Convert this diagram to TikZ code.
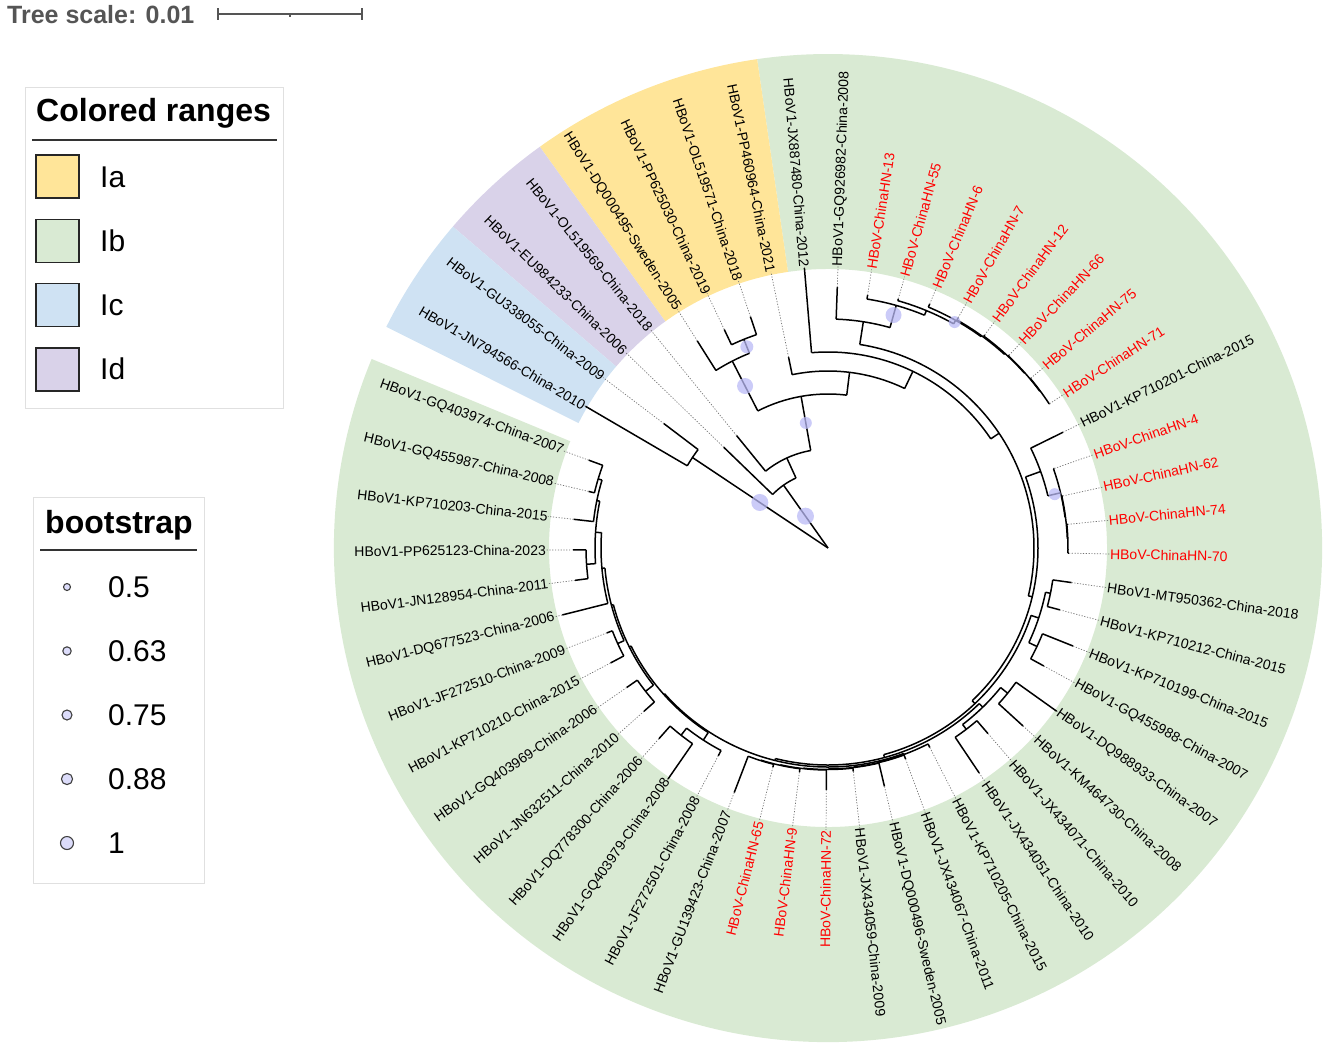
\documentclass[tikz,border=0pt]{standalone}
\usepackage{fontspec}
\setmainfont{Liberation Sans}
\definecolor{rangeIa}{RGB}{255,229,153}
\definecolor{rangeIb}{RGB}{217,234,211}
\definecolor{rangeIc}{RGB}{207,226,243}
\definecolor{rangeId}{RGB}{217,210,233}
\definecolor{bootfill}{RGB}{185,185,245}
\definecolor{bootlegend}{RGB}{220,220,250}
\definecolor{scalegray}{RGB}{85,85,85}

\newcommand\leafang[1]{(149.7-6.86*(#1-1))}
\newcommand\cladebr[5]{%
  \pgfmathsetmacro\cmid{(#2+#3)/2}%
  \coordinate (#1) at (\cmid:#5pt);%
  \draw[branch] (\cmid:#4pt) -- (#1);%
  \draw[branch] ({#2}:#5pt) arc[start angle={#2}, end angle={#3}, radius=#5pt];%
}
\newcommand\leafbr[3]{%
  \coordinate (t#1) at ({\leafang{#1}}:#3pt);%
  \draw[branch] ({\leafang{#1}}:#2pt) -- (t#1);%
  \draw[dotline] (t#1) -- (l#1);%
}
\newcommand\rangesec[3]{%
  \fill[#1] (#2:279pt) arc[start angle=#2, end angle=#3, radius=279pt]
    -- (#3:494pt) arc[start angle=#3, end angle=#2, radius=494pt] -- cycle;%
}

\begin{document}
\begin{tikzpicture}
[x=1pt, y=1pt,
 branch/.style={line width=1.5pt, black, line join=round},
 dotline/.style={black!55, line width=0.7pt, dash pattern=on 1.2pt off 1.6pt},
 leaflbl/.style={inner sep=0pt, font=\fontsize{14}{16}\selectfont},
 boot/.style={fill=bootfill, fill opacity=0.75},
 legtitle/.style={anchor=base west, inner sep=0pt, font=\fontsize{32}{36}\selectfont\bfseries},
 legitem/.style={anchor=base west, inner sep=0pt, font=\fontsize{30}{34}\selectfont},
 legbox/.style={draw=black!12, line width=1pt},
 swatch/.style={draw=black!85, line width=1.5pt}]
\useasboundingbox (0,0) rectangle (1325,-1047);

% scale and legends
\node (scaletxt) at (7,-23) [anchor=base west, inner sep=0pt, text=scalegray, font=\fontsize{25}{30}\selectfont\bfseries] {Tree scale: 0.01};
\draw[scalegray, line width=1.4pt] (218,-14) -- (362,-14);
\draw[scalegray, line width=1.4pt] (218,-8) -- (218,-20) (362,-8) -- (362,-20) (290,-14) -- (290,-17);

\draw[legbox] (25,-87) rectangle (283,-408);
\node (crtitle) at (36,-121) [legtitle] {Colored ranges};
\draw[line width=1.5pt, black!80] (32,-140) -- (277,-140);
\foreach \k/\nm in {0/Ia,1/Ib,2/Ic,3/Id}{
  \draw[swatch, fill=range\nm] (36,{-155-64.3*\k}) rectangle (79,{-198-64.3*\k});
  \node (sw\nm) at (100,{-187-64.2*\k}) [legitem] {\nm};
}

\draw[legbox] (33,-497) rectangle (204,-883);
\node (bstitle) at (45,-533) [legtitle] {bootstrap};
\draw[line width=1.5pt, black!80] (40,-550) -- (197,-550);
\foreach \k/\bval/\brad in {0/0.5/3.5, 1/0.63/4.2, 2/0.75/5, 3/0.88/5.6, 4/1/6.5}{
  \draw[fill=bootlegend, draw=black!75, line width=1.1pt] (67,{-587-64*\k}) circle (\brad pt);
  \node (bs\k) at (108,{-597-64*\k}) [legitem] {\bval};
}

\begin{scope}[shift={(828,-548)}]
% colored ranges
\rangesec{rangeIb}{98.25}{-202.5}
\rangesec{rangeIa}{125.69}{98.25}
\rangesec{rangeId}{139.41}{125.69}
\rangesec{rangeIc}{153.4}{139.41}

% leaf labels
\foreach \i/\lbl/\col in {
 1/HBoV1-JN794566-China-2010/black, 2/HBoV1-GU338055-China-2009/black,
 3/HBoV1-EU984233-China-2006/black, 4/HBoV1-OL519569-China-2018/black,
 5/HBoV1-DQ000495-Sweden-2005/black, 6/HBoV1-PP625030-China-2019/black,
 7/HBoV1-OL519571-China-2018/black, 8/HBoV1-PP460964-China-2021/black,
 9/HBoV1-JX887480-China-2012/black, 10/HBoV1-GQ926982-China-2008/black,
 11/HBoV-ChinaHN-13/red, 12/HBoV-ChinaHN-55/red, 13/HBoV-ChinaHN-6/red,
 14/HBoV-ChinaHN-7/red, 15/HBoV-ChinaHN-12/red, 16/HBoV-ChinaHN-66/red,
 17/HBoV-ChinaHN-75/red, 18/HBoV-ChinaHN-71/red,
 19/HBoV1-KP710201-China-2015/black,
 20/HBoV-ChinaHN-4/red, 21/HBoV-ChinaHN-62/red, 22/HBoV-ChinaHN-74/red,
 23/HBoV-ChinaHN-70/red,
 24/HBoV1-MT950362-China-2018/black, 25/HBoV1-KP710212-China-2015/black,
 26/HBoV1-KP710199-China-2015/black, 27/HBoV1-GQ455988-China-2007/black,
 28/HBoV1-DQ988933-China-2007/black, 29/HBoV1-KM464730-China-2008/black,
 30/HBoV1-JX434071-China-2010/black, 31/HBoV1-JX434051-China-2010/black,
 32/HBoV1-KP710205-China-2015/black, 33/HBoV1-JX434067-China-2011/black,
 34/HBoV1-DQ000496-Sweden-2005/black, 35/HBoV1-JX434059-China-2009/black,
 36/HBoV-ChinaHN-72/red, 37/HBoV-ChinaHN-9/red, 38/HBoV-ChinaHN-65/red,
 39/HBoV1-GU139423-China-2007/black, 40/HBoV1-JF272501-China-2008/black,
 41/HBoV1-GQ403979-China-2008/black, 42/HBoV1-DQ778300-China-2006/black,
 43/HBoV1-JN632511-China-2010/black, 44/HBoV1-GQ403969-China-2006/black,
 45/HBoV1-KP710210-China-2015/black, 46/HBoV1-JF272510-China-2009/black,
 47/HBoV1-DQ677523-China-2006/black, 48/HBoV1-JN128954-China-2011/black,
 49/HBoV1-PP625123-China-2023/black, 50/HBoV1-KP710203-China-2015/black,
 51/HBoV1-GQ455987-China-2008/black, 52/HBoV1-GQ403974-China-2007/black}{
  \pgfmathsetmacro\a{\leafang{\i}}
  \pgfmathsetmacro\co{cos(\a)}
  \pgfmathsetmacro\rt{\a+180}
  \ifdim\co pt<0pt
    \node (l\i) at (\a:282pt) [leaflbl, text=\col, anchor=east, rotate=\rt] {\lbl};
  \else
    \node (l\i) at (\a:282pt) [leaflbl, text=\col, anchor=west, rotate=\a] {\lbl};
  \fi
}

% node angles
\pgfmathsetmacro\aIc{(\leafang{1}+\leafang{2})/2}
\pgfmathsetmacro\aIaB{(\leafang{6}+\leafang{7})/2}
\pgfmathsetmacro\aIa{(\leafang{5}+\aIaB)/2}
\pgfmathsetmacro\aKa{(\leafang{17}+\leafang{18})/2}
\pgfmathsetmacro\aKb{(\leafang{16}+\aKa)/2}
\pgfmathsetmacro\aKc{(\leafang{15}+\aKb)/2}
\pgfmathsetmacro\aKd{(\leafang{14}+\aKc)/2}
\pgfmathsetmacro\aKe{(\leafang{13}+\aKd)/2}
\pgfmathsetmacro\aHy{(\leafang{12}+\aKe)/2}
\pgfmathsetmacro\aH{(\leafang{11}+\aHy)/2}
\pgfmathsetmacro\aG{(\leafang{10}+\aH)/2}
\pgfmathsetmacro\aQa{(\leafang{22}+\leafang{23})/2}
\pgfmathsetmacro\aQb{(\leafang{21}+\aQa)/2}
\pgfmathsetmacro\aQc{(\leafang{20}+\aQb)/2}
\pgfmathsetmacro\aRa{(\leafang{19}+\aQc)/2}
\pgfmathsetmacro\aSa{(\leafang{24}+\leafang{25})/2}
\pgfmathsetmacro\aSb{(\leafang{26}+\leafang{27})/2}
\pgfmathsetmacro\aRb{(\aSa+\aSb)/2}
\pgfmathsetmacro\aBa{(\leafang{28}+\leafang{29})/2}
\pgfmathsetmacro\aBb{(\leafang{30}+\leafang{31})/2}
\pgfmathsetmacro\aBc{(\aBa+\aBb)/2}
\pgfmathsetmacro\aCg{(\leafang{38}+\leafang{39})/2}
\pgfmathsetmacro\aCf{(\leafang{37}+\aCg)/2}
\pgfmathsetmacro\aCe{(\leafang{36}+\aCf)/2}
\pgfmathsetmacro\aCd{(\leafang{35}+\aCe)/2}
\pgfmathsetmacro\aCc{(\leafang{34}+\aCd)/2}
\pgfmathsetmacro\aCb{(\leafang{33}+\aCc)/2}
\pgfmathsetmacro\aCa{(\leafang{32}+\aCb)/2}
\pgfmathsetmacro\aMa{(\leafang{41}+\leafang{42})/2}
\pgfmathsetmacro\aMb{(\leafang{40}+\aMa)/2}
\pgfmathsetmacro\aMc{(\leafang{43}+\leafang{44})/2}
\pgfmathsetmacro\aMd{(\leafang{45}+\leafang{46})/2}
\pgfmathsetmacro\aMe{(\leafang{48}+\leafang{49})/2}
\pgfmathsetmacro\aMf{(\leafang{51}+\leafang{52})/2}
\pgfmathsetmacro\aMg{(\leafang{50}+\aMf)/2}
\pgfmathsetmacro\aMh{(\aMe+\aMg)/2}
\pgfmathsetmacro\aLa{(\leafang{47}+\aMh)/2}
\pgfmathsetmacro\aLb{(\aMd+\aLa)/2}
\pgfmathsetmacro\aLc{(\aMc+\aLb)/2}
\pgfmathsetmacro\aLd{(\aMb+\aLc)/2}
\pgfmathsetmacro\aW{(\aCa+\aLd)/2}
\pgfmathsetmacro\aZ{(\aBc+\aW)/2}
\pgfmathsetmacro\aY{(\aRb+\aZ)/2}
\pgfmathsetmacro\aX{(\aRa+\aY)/2}
\pgfmathsetmacro\aF{(\aG+\aX)/2}
\pgfmathsetmacro\aD{(\leafang{9}+\aF)/2}
\pgfmathsetmacro\aC{(\leafang{8}+\aD)/2}
\pgfmathsetmacro\aN{(\aIa+\aC)/2}
\pgfmathsetmacro\aNc{(\leafang{4}+\aN)/2}
\pgfmathsetmacro\aNb{(\leafang{3}+\aNc)/2}

% clades: name, first, last, parent radius, radius
\cladebr{Ic}{\leafang{1}}{\leafang{2}}{0}{163}
\cladebr{Nb}{\leafang{3}}{\aNc}{0}{77}
\cladebr{Nc}{\leafang{4}}{\aN}{77}{99}
\cladebr{N}{\aIa}{\aC}{99}{154}
\cladebr{Ia}{\leafang{5}}{\aIaB}{154}{210}
\cladebr{IaB}{\leafang{6}}{\leafang{7}}{210}{225}
\cladebr{C}{\leafang{8}}{\aD}{154}{177}
\cladebr{D}{\leafang{9}}{\aF}{177}{196}
\cladebr{F}{\aG}{\aX}{196}{206}
\cladebr{G}{\leafang{10}}{\aH}{206}{229}
\cladebr{H}{\leafang{11}}{\aHy}{229}{252}
\cladebr{Hy}{\leafang{12}}{\aKe}{252}{257}
\cladebr{Ke}{\leafang{13}}{\aKd}{257}{261}
\cladebr{Kd}{\leafang{14}}{\aKc}{261}{262}
\cladebr{Kc}{\leafang{15}}{\aKb}{262}{263}
\cladebr{Kb}{\leafang{16}}{\aKa}{263}{263.5}
\cladebr{Ka}{\leafang{17}}{\leafang{18}}{263.5}{264}
\cladebr{X}{\aRa}{\aY}{206}{210}
\cladebr{Ra}{\leafang{19}}{\aQc}{210}{226}
\cladebr{Qc}{\leafang{20}}{\aQb}{226}{239}
\cladebr{Qb}{\leafang{21}}{\aQa}{239}{239.5}
\cladebr{Qa}{\leafang{22}}{\leafang{23}}{239.5}{240}
\cladebr{Y}{\aRb}{\aZ}{210}{214}
\cladebr{Rb}{\aSa}{\aSb}{214}{222}
\cladebr{Sa}{\leafang{24}}{\leafang{25}}{222}{227}
\cladebr{Sb}{\leafang{26}}{\leafang{27}}{222}{231}
\cladebr{Z}{\aBc}{\aW}{214}{217}
\cladebr{Bc}{\aBa}{\aBb}{217}{222}
\cladebr{Ba}{\leafang{28}}{\leafang{29}}{222}{231}
\cladebr{Bb}{\leafang{30}}{\leafang{31}}{222}{228}
\cladebr{W}{\aCa}{\aLd}{217}{219}
\cladebr{Ca}{\leafang{32}}{\aCb}{219}{220}
\cladebr{Cb}{\leafang{33}}{\aCc}{220}{220.5}
\cladebr{Cc}{\leafang{34}}{\aCd}{220.5}{221}
\cladebr{Cd}{\leafang{35}}{\aCe}{221}{221.5}
\cladebr{Ce}{\leafang{36}}{\aCf}{221.5}{222}
\cladebr{Cf}{\leafang{37}}{\aCg}{222}{222.5}
\cladebr{Cg}{\leafang{38}}{\leafang{39}}{222.5}{223}
\cladebr{Ld}{\aMb}{\aLc}{219}{220}
\cladebr{Mb}{\leafang{40}}{\aMa}{220}{229}
\cladebr{Ma}{\leafang{41}}{\leafang{42}}{229}{238}
\cladebr{Lc}{\aMc}{\aLb}{220}{222}
\cladebr{Mc}{\leafang{43}}{\leafang{44}}{222}{232}
\cladebr{Lb}{\aMd}{\aLa}{222}{224}
\cladebr{Md}{\leafang{45}}{\leafang{46}}{224}{231}
\cladebr{La}{\leafang{47}}{\aMh}{224}{227}
\cladebr{Mh}{\aMe}{\aMg}{227}{233}
\cladebr{Me}{\leafang{48}}{\leafang{49}}{233}{242}
\cladebr{Mg}{\leafang{50}}{\aMf}{233}{236}
\cladebr{Mf}{\leafang{51}}{\leafang{52}}{236}{240}

% leaves: index, parent radius, tip radius
\foreach \i/\pr/\tr in {1/163/281, 2/163/206, 3/77/145, 4/99/145, 5/210/245,
 6/225/242, 7/225/244, 8/177/195, 9/196/281, 10/229/261, 11/252/256,
 12/257/259, 13/261/264.5, 14/262/264.5, 15/263/264.5, 16/263.5/264.5,
 17/264/264.5, 18/264/264.5, 19/226/262, 20/239/240, 21/239.5/240.5,
 22/240/241, 23/240/241, 24/227/246, 25/227/240, 26/231/264, 27/231/246,
 28/231/281, 29/231/264, 30/228/245, 31/228/271, 32/220/224, 33/220.5/225,
 34/221/245, 35/221.5/225, 36/222/242, 37/222.5/226, 38/223/226, 39/223/262,
 40/229/235, 41/238/281, 42/238/255, 43/232/246, 44/232/245, 45/231/246,
 46/231/237, 47/227/274, 48/242/255, 49/242/255, 50/236/256, 51/240/246,
 52/240/255}{
  \leafbr{\i}{\pr}{\tr}
}

% bootstrap
\fill[boot] (\aIc:82pt) circle (8.5pt);
\fill[boot] (\aNb:39pt) circle (8.5pt);
\fill[boot] (\aIa:182pt) circle (8pt);
\fill[boot] (\aIaB:217pt) circle (6.5pt);
\fill[boot] (\aN:127pt) circle (6pt);
\fill[boot] (\aH:242pt) circle (8pt);
\fill[boot] (\aKe:259pt) circle (6pt);
\fill[boot] (\aQc:233pt) circle (6pt);
\end{scope}
\end{tikzpicture}
\end{document}
